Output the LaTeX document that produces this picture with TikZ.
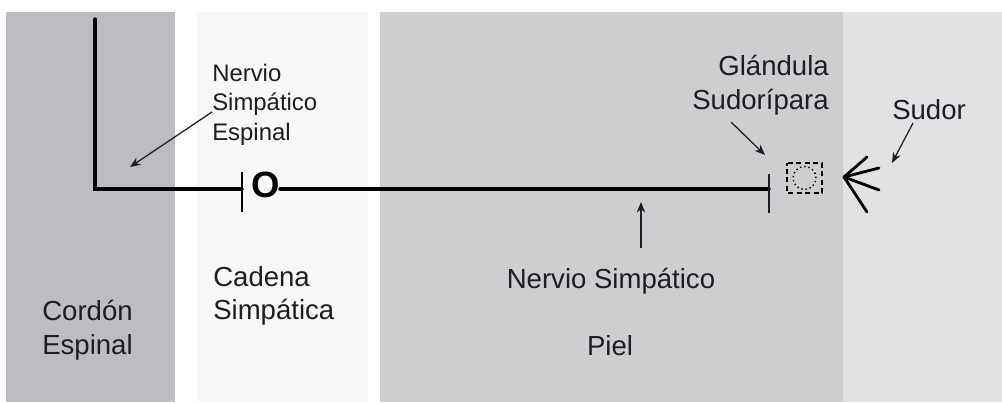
\documentclass[tikz,border=0pt]{standalone}
\usepackage{fontspec}
\setmainfont{Liberation Sans}
\usepackage{xcolor}
\usepackage{tikz}
\usetikzlibrary{arrows.meta}

\definecolor{cordgray}{RGB}{188,189,193}
\definecolor{chaingray}{RGB}{248,248,248}
\definecolor{skingray}{RGB}{205,206,208}
\definecolor{outgray}{RGB}{225,226,228}
\definecolor{inkgray}{RGB}{30,30,34}

\begin{document}
\begin{tikzpicture}[x=0.025cm, y=-0.025cm, >={Stealth[length=7.5pt,width=6pt]},
        biglabel/.style = {inner sep=0pt, text=inkgray, font=\fontsize{19.6}{23.8}\selectfont},
        smalllabel/.style = {inner sep=0pt, text=inkgray, font=\fontsize{17}{20.8}\selectfont},
        pointer/.style = {->, line width=0.9pt, inkgray},
        nerve/.style = {line width=2.4pt, line cap=round}]
                \useasboundingbox (0,0) rectangle (1002,403);

                % Bands
                \fill[cordgray] (6,12) rectangle (175,402);   % Cordon espinal
                \fill[chaingray] (197,12) rectangle (368,402); % Cadena simpatica
                \fill[skingray] (380,12) rectangle (843,402);  % Piel
                \fill[outgray] (843,12) rectangle (1002,402);  % Fuera

                % Band labels
                \node[biglabel, anchor=north west, align=left] (cord) at (42,300) {Cord\'on\\Espinal};
                \node[biglabel, anchor=north west, align=left] (chain) at (213,266) {Cadena\\Simp\'atica};
                \node[biglabel, anchor=north] (skin) at (610,335) {Piel};

                % Nerve path
                \coordinate (cordTop) at (95,19);
                \coordinate (chainSyn) at (242,189);
                \coordinate (skinSyn) at (769,189);
                \draw[nerve] (cordTop) |- (chainSyn);
                \draw[line width=2pt] ([yshift=-16]chainSyn) -- ([yshift=12]chainSyn);
                \node[inner sep=0pt, font=\fontsize{26}{26}\selectfont\bfseries] (ganglion) at (265.5,184.5) {O};
                \draw[nerve] (ganglion.east |- skinSyn) -- (skinSyn);
                \draw[line width=2pt, inkgray] ([yshift=-17]skinSyn) -- ([yshift=11]skinSyn);

                % Sweat gland
                \draw[line width=1.1pt, dash pattern=on 3.6pt off 2.4pt, dash phase=1.8pt] (787,163) rectangle (822,193);
                \node[circle, draw, dotted, line width=1pt, minimum size=23*0.025cm, inner sep=0pt] (gland) at (804.5,178) {};

                % Sweat
                \coordinate (sweat) at (844,177);
                \foreach \ex/\ey in {867/157, 879/168, 879/190, 867/212}
                    \draw[line width=2pt, line cap=round] (sweat) -- (\ex,\ey);

                % Labels with pointers
                \node[smalllabel, anchor=north west, align=left] (spinalNerve) at (212,64) {Nervio\\Simp\'atico\\Espinal};
                \coordinate (spinalTip) at (130,167);
                \draw[pointer] (212,112) -- (spinalTip);

                \node[biglabel, anchor=north] (sympNerve) at (611,268) {Nervio Simp\'atico};
                \coordinate (sympTip) at (641,202);
                \draw[pointer] (641,248) -- (sympTip);

                \node[biglabel, anchor=north east, align=right] (glandLabel) at (829,55) {Gl\'andula\\Sudor\'ipara};
                \coordinate (glandTip) at (765,155);
                \draw[pointer] (731,122) -- (glandTip);

                \node[biglabel, anchor=north west] (sweatLabel) at (892,99) {Sudor};
                \coordinate (sweatTip) at (892,163);
                \draw[pointer] (913,123) -- (sweatTip);
            \end{tikzpicture}
\end{document}
